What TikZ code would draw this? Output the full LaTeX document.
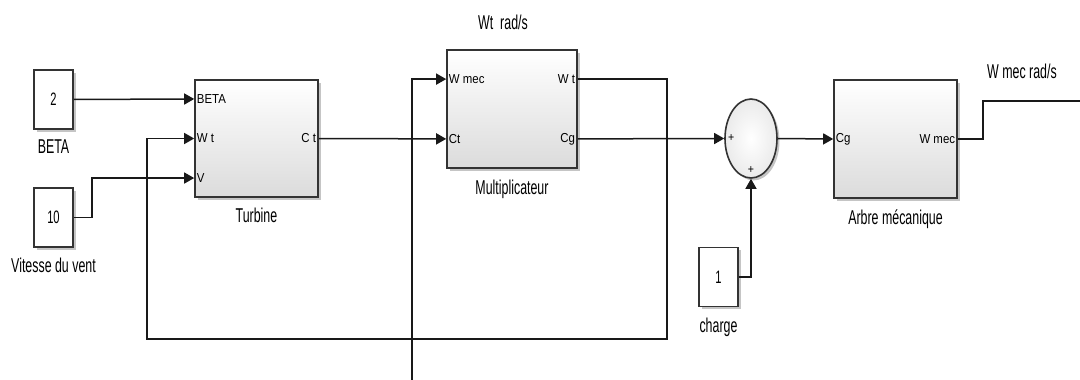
\documentclass[tikz,border=0pt]{standalone}
\usepackage{fontspec}
\setmainfont{Liberation Sans}[FakeStretch=0.88]
\newfontfamily\namefont{Liberation Sans}[FakeStretch=0.62]
\usetikzlibrary{
    arrows.meta,
    positioning,
    calc,
    shadows,
    shapes.geometric
}

\begin{document}
\begin{tikzpicture}[
        x=1pt, y=-1pt,
        node distance=10pt,
        every node/.style={font=\fontsize{13}{15}\selectfont},
        block/.style={
            rectangle,
            draw=black!80,
            line width=1.6pt,
            top color=white,
            bottom color=black!14,
            drop shadow={shadow xshift=2.5pt,shadow yshift=-2.5pt,fill=black!45},
            inner sep=0pt
        },
        constblock/.style={
            block,
            top color=white,
            bottom color=white,
            minimum width=39pt,
            minimum height=59pt,
            font=\namefont\fontsize{18}{20}\selectfont
        },
        sumnode/.style={
            ellipse,
            draw=black!80,
            line width=1.6pt,
            inner color=white,
            outer color=black!8,
            drop shadow={shadow xshift=2.5pt,shadow yshift=-2.5pt,fill=black!45},
            minimum width=52pt,
            minimum height=79pt,
            inner sep=0pt
        },
        blocklabel/.style={font=\namefont\fontsize{20}{22}\selectfont,inner sep=0pt},
        port/.style={inner sep=2.5pt},
        sign/.style={font=\fontsize{12}{12}\selectfont,inner sep=0pt},
        sig/.style={-{Triangle[length=10pt,width=11pt]},line width=1.5pt,draw=black!90},
        wire/.style={line width=1.5pt,draw=black!90}
    ]
        \useasboundingbox (0,0) rectangle (1080,380);

        \node[constblock] (beta) at (53.5,99.5) {2};
        \node[blocklabel, below=of beta] (betaTxt) {BETA};
        \node[constblock] (vent) at (53.5,217.5) {10};
        \node[blocklabel, below=of vent] (ventTxt) {Vitesse du vent};

        \node[block, minimum width=123pt, minimum height=117pt] (turbine) at (256.5,138.5) {};
        \node[blocklabel, below=of turbine] (turbineTxt) {Turbine};
        \node[block, minimum width=130pt, minimum height=118pt] (mult) at (512,109) {};
        \node[blocklabel, below=11pt of mult] (multTxt) {Multiplicateur};
        \node[blocklabel] (wtTxt) at (503,22) {Wt\ \ rad/s};

        \node[sumnode] (sum) at (751,138.5) {};
        \node[sign] (sumA) at ($(sum.west)+(7,0)$) {+};
        \node[sign] (sumB) at ($(sum.south)+(0,-9)$) {+};

        \node[block, minimum width=123pt, minimum height=118pt] (arbre) at (895.5,139) {};
        \node[blocklabel, below=11pt of arbre] (arbreTxt) {Arbre mécanique};
        \node[blocklabel] (wmecTxt) at (1022,71.5) {W mec rad/s};

        \node[constblock] (charge) at (718.5,277) {1};
        \node[blocklabel, below=11pt of charge] (chargeTxt) {charge};

        \coordinate (tbBeta) at ($(turbine.north west)!1/6!(turbine.south west)$);
        \coordinate (tbV) at ($(turbine.north west)!5/6!(turbine.south west)$);
        \coordinate (mlWmec) at ($(mult.north west)!1/4!(mult.south west)$);
        \coordinate (mlCt) at ($(mult.north west)!3/4!(mult.south west)$);
        \coordinate (mlWt) at ($(mult.north east)!1/4!(mult.south east)$);
        \coordinate (mlCg) at ($(mult.north east)!3/4!(mult.south east)$);
        \coordinate (fbR) at (667,339);
        \coordinate (fbL) at (147,339);
        \coordinate (wmecIn) at (412,380);
        \coordinate (wmecOut) at (1080,101);

        \node[port, right] (tbBetaTxt) at (tbBeta) {BETA};
        \node[port, right] (tbWtTxt) at (turbine.west) {W t};
        \node[port, right] (tbVTxt) at (tbV) {V};
        \node[port, left] (tbCtTxt) at (turbine.east) {C t};
        \node[port, right] (mlWmecTxt) at (mlWmec) {W mec};
        \node[port, right] (mlCtTxt) at (mlCt) {Ct};
        \node[port, left] (mlWtTxt) at (mlWt) {W t};
        \node[port, left] (mlCgTxt) at (mlCg) {Cg};
        \node[port, right] (arCgTxt) at (arbre.west) {Cg};
        \node[port, left] (arWmecTxt) at (arbre.east) {W mec};

        \draw[sig] (beta.east) -- (tbBeta);
        \draw[sig] (vent.east) -- ++(18,0) |- (tbV);
        \draw[sig] (turbine.east) -- (mlCt);
        \draw[sig] (mlWt) -| (fbR) -- (fbL) |- (turbine.west);
        \draw[sig] (wmecIn) |- (mlWmec);
        \draw[sig] (mlCg) -- (sum.west);
        \draw[sig] (sum.east) -- (arbre.west);
        \draw[sig] (charge.east) -| (sum.south);
        \draw[wire] (arbre.east) -- ++(25,0) |- (wmecOut);
    \end{tikzpicture}
\end{document}
